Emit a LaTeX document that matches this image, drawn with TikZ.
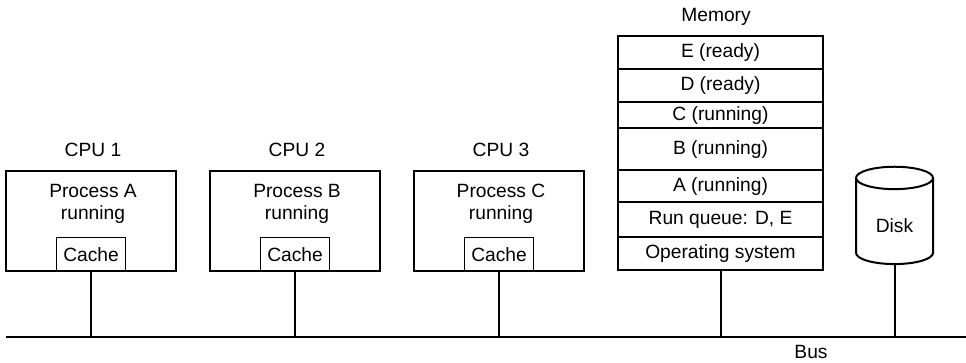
\documentclass[tikz,border=0pt]{standalone}
\usepackage{fontspec}
\setmainfont{Liberation Sans}
\usetikzlibrary{positioning,shapes.geometric}
\tikzset{
	heavy/.style={line width=1.5pt},
	label text/.style={font=\fontsize{14.4}{16.5}\selectfont,align=center,inner sep=0pt},
	cpubox/.style={heavy,draw,minimum width=127pt,minimum height=75pt,inner sep=0pt,outer sep=0pt},
	cachebox/.style={label text,draw,line width=1pt,minimum width=51.5pt,minimum height=25pt,outer sep=0pt},
	memcell/.style={label text,draw,line width=0.9pt,minimum width=153.75pt,outer sep=0pt,text height=10.5pt,text depth=3pt}
}
\begin{document}
\begin{tikzpicture}[x=0.75pt,y=-0.75pt]
	\useasboundingbox (0,0) rectangle (966,362);
	% Bus
	\coordinate (busleft) at (6,337);
	\coordinate (busright) at (966,337);
	\draw [heavy] (busleft) -- (busright);
	\node [label text] (buslabel) at (811,352) {Bus};
	% CPUs
	\foreach \n/\x/\p in {1/91/A,2/295/B,3/499/C} {
		\node [cpubox] (cpu\n) at (\x,221) {};
		\node [label text] (cpulabel\n) at (\x+2,150) {CPU \n};
		\node [label text] (proc\n) at (\x+2,204) {Process \p\\running};
		\node [cachebox,anchor=south] (cache\n) at (cpu\n.south) {Cache};
		\draw [heavy] (cpu\n.south) -- (cpu\n.south |- busleft);
	}
	% Memory
	\node [memcell,minimum height=24.75pt] (cellE) at (720.5,52.5) {E (ready)};
	\node [memcell,minimum height=24.75pt,below=0pt of cellE] (cellD) {D (ready)};
	\node [memcell,minimum height=19.5pt,below=0pt of cellD] (cellC) {C (running)};
	\node [memcell,minimum height=31.5pt,below=0pt of cellC] (cellB) {B (running)};
	\node [memcell,minimum height=24pt,below=0pt of cellB] (cellA) {A (running)};
	\node [memcell,minimum height=26.25pt,below=0pt of cellA] (cellRun) {Run queue: D, E};
	\node [memcell,minimum height=24.75pt,below=0pt of cellRun] (cellOS) {Operating system};
	\draw [heavy] (cellE.north west) rectangle (cellOS.south east);
	\node [label text] (memlabel) at (716,17) {Memory};
	\draw [heavy] (cellOS.south) -- (cellOS.south |- busleft);
	% Disk
	\node [cylinder,shape border rotate=90,draw,heavy,aspect=0.6,minimum width=57.75pt,minimum height=73pt,inner sep=0pt,outer sep=0pt,label text,text height=17pt,text depth=0pt] (disk) at (894.5,221.5) {Disk};
	\draw [heavy] (disk.south) -- (disk.south |- busleft);
\end{tikzpicture}
\end{document}
